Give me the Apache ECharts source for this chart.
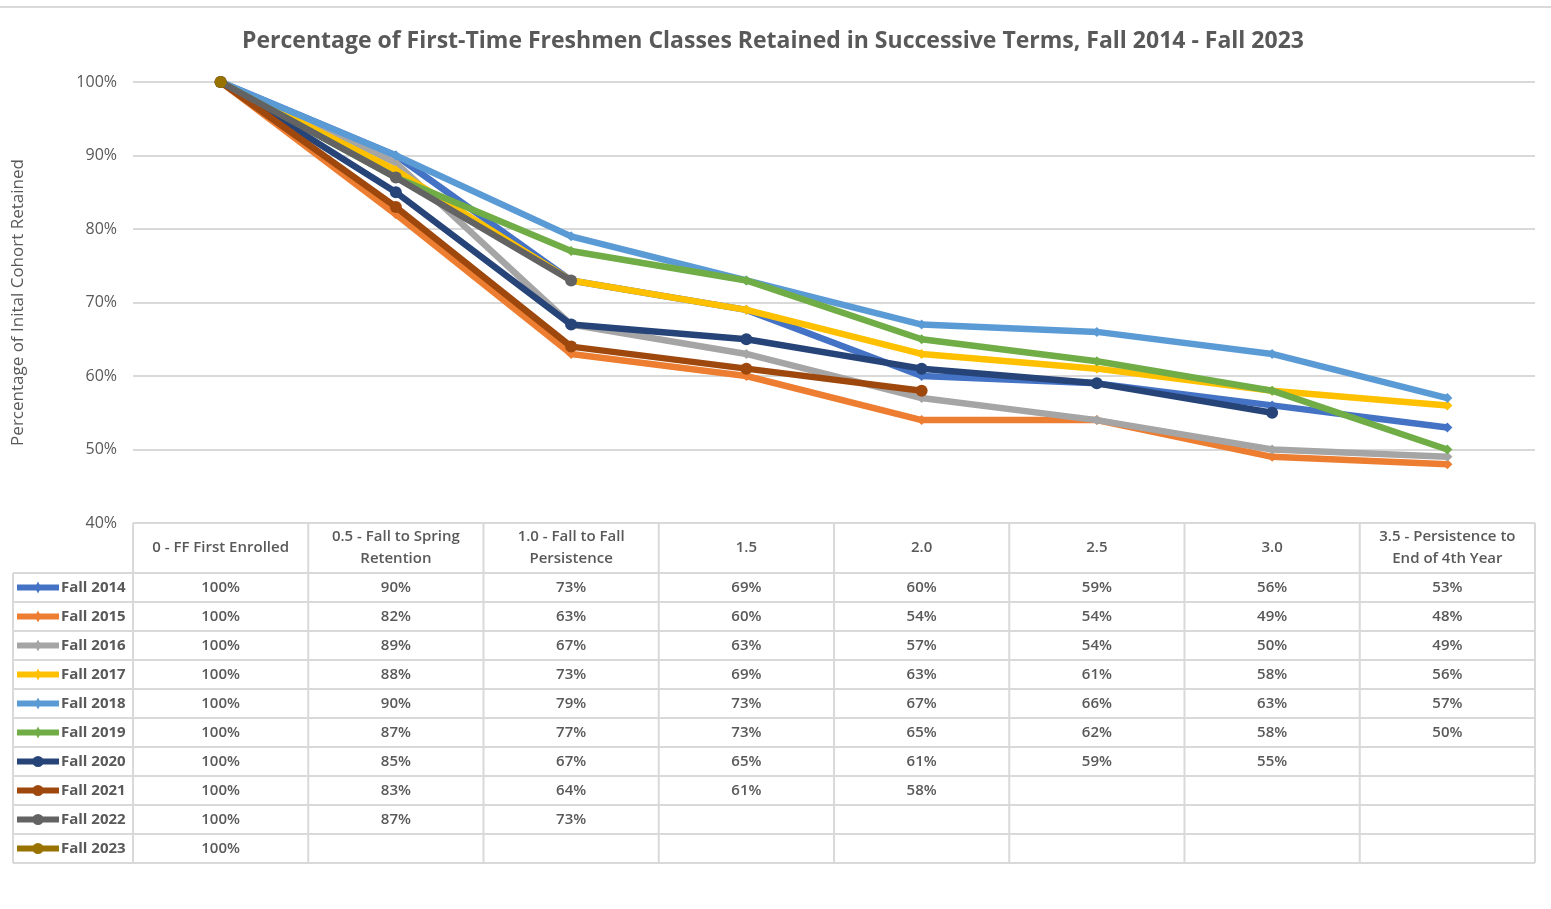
<!DOCTYPE html>
<html>
<head>
<meta charset="utf-8">
<script src="https://cdn.jsdelivr.net/npm/echarts@6/dist/echarts.min.js"></script>
<style>
  html, body { margin: 0; padding: 0; background: #fff; }
  #main { width: 1551px; height: 909px; }
</style>
</head>
<body>
<div id="main"></div>
<script>
// categories (table header)
var categories = ['0 - FF First Enrolled', '0.5 - Fall to Spring\nRetention', '1.0 - Fall to Fall\nPersistence',
  '1.5', '2.0', '2.5', '3.0', '3.5 - Persistence to\nEnd of 4th Year'];
var cohorts = ['Fall 2014', 'Fall 2015', 'Fall 2016', 'Fall 2017', 'Fall 2018',
  'Fall 2019', 'Fall 2020', 'Fall 2021', 'Fall 2022', 'Fall 2023'];
var fall2014 = [100, 90, 73, 69, 60, 59, 56, 53];
var fall2015 = [100, 82, 63, 60, 54, 54, 49, 48];
var fall2016 = [100, 89, 67, 63, 57, 54, 50, 49];
var fall2017 = [100, 88, 73, 69, 63, 61, 58, 56];
var fall2018 = [100, 90, 79, 73, 67, 66, 63, 57];
var fall2019 = [100, 87, 77, 73, 65, 62, 58, 50];
var fall2020 = [100, 85, 67, 65, 61, 59, 55];
var fall2021 = [100, 83, 64, 61, 58];
var fall2022 = [100, 87, 73];
var fall2023 = [100];
var allData = [fall2014, fall2015, fall2016, fall2017, fall2018, fall2019, fall2020, fall2021, fall2022, fall2023];
var colors = ['#4472C4', '#ED7D31', '#A5A5A5', '#FFC000', '#5B9BD5', '#70AD47', '#264478', '#9E480E', '#636363', '#997300'];
var symbols = ['diamond', 'diamond', 'diamond', 'diamond', 'diamond', 'diamond', 'circle', 'circle', 'circle', 'circle'];

var txtColor = '#595959';
var lineColor = '#d9d9d9';
var fontFam = '"Open Sans", "Noto Sans", sans-serif';

var chart = echarts.init(document.getElementById('main'));

var series = cohorts.map(function (name, i) {
  return {
    name: name,
    type: 'line',
    data: allData[i],
    symbol: symbols[i],
    symbolSize: symbols[i] == 'circle' ? 12 : 10,
    showAllSymbol: true,
    lineStyle: { width: 6.5, color: colors[i] },
    itemStyle: { color: colors[i] },
    z: 2 + i
  };
});

var option = {
  animation: false,
  title: {
    text: 'Percentage of First-Time Freshmen Classes Retained in Successive Terms, Fall 2014 - Fall 2023',
    left: 237,
    top: 25,
    textStyle: { fontFamily: fontFam, fontSize: 23, fontWeight: 'bold', color: txtColor }
  },
  grid: { left: 133, right: 16, top: 82, bottom: 386 },
  xAxis: {
    type: 'category',
    data: categories,
    boundaryGap: true,
    axisLine: { show: false },
    axisTick: { show: false },
    axisLabel: { show: false }
  },
  yAxis: {
    type: 'value',
    min: 40,
    max: 100,
    interval: 10,
    name: 'Percentage of Inital Cohort Retained',
    nameLocation: 'middle',
    nameRotate: 90,
    nameGap: 106,
    nameTextStyle: { fontFamily: fontFam, fontSize: 17, color: txtColor },
    axisLine: { show: false },
    axisTick: { show: false },
    axisLabel: { formatter: '{value}%', fontFamily: fontFam, fontSize: 16, color: txtColor, margin: 16 },
    splitLine: { lineStyle: { color: lineColor, width: 2 } }
  },
  series: series
};
chart.setOption(option);

// data table under the plot, columns taken from the category axis
var graphics = [];
var tableTop = 523, headerH = 50, rowH = 29;
var leftEdge = 13;
var centers = categories.map(function (c, i) { return chart.convertToPixel({ xAxisIndex: 0 }, i); });
var colW = centers[1] - centers[0];
var xStart = centers[0] - colW / 2;
var xEnd = centers[centers.length - 1] + colW / 2;
var tableBottom = tableTop + headerH + rowH * cohorts.length;

function hline(x1, x2, y) {
  graphics.push({ type: 'line', shape: { x1: x1, y1: y, x2: x2, y2: y }, style: { stroke: lineColor, lineWidth: 2 }, z: 1 });
}
function vline(x, y1, y2) {
  graphics.push({ type: 'line', shape: { x1: x, y1: y1, x2: x, y2: y2 }, style: { stroke: lineColor, lineWidth: 2 }, z: 1 });
}
// top line of chart frame
hline(0, 1551, 7);
// horizontal rules
hline(xStart, xEnd, tableTop);
for (var r = 0; r <= cohorts.length; r++) {
  hline(leftEdge, xEnd, tableTop + headerH + r * rowH);
}
// vertical rules
vline(leftEdge, tableTop + headerH, tableBottom);
for (var c = 0; c <= categories.length; c++) {
  vline(xStart + c * colW, tableTop, tableBottom);
}
// header texts
categories.forEach(function (cat, i) {
  graphics.push({
    type: 'text', x: centers[i], y: tableTop + headerH / 2,
    style: { text: cat, fontFamily: fontFam, fontSize: 15, fontWeight: 600, fill: txtColor, align: 'center', verticalAlign: 'middle', lineHeight: 22 }
  });
});
// rows
cohorts.forEach(function (name, r) {
  var cy = tableTop + headerH + r * rowH + rowH / 2;
  graphics.push({ type: 'line', shape: { x1: 17, y1: cy, x2: 59, y2: cy }, style: { stroke: colors[r], lineWidth: 6 }, z: 3 });
  if (symbols[r] == 'circle') {
    graphics.push({ type: 'circle', shape: { cx: 38, cy: cy, r: 5.5 }, style: { fill: colors[r] }, z: 4 });
  } else {
    graphics.push({ type: 'polygon', shape: { points: [[38, cy - 6], [41, cy], [38, cy + 6], [35, cy]] }, style: { fill: colors[r] }, z: 4 });
  }
  graphics.push({
    type: 'text', x: 61, y: cy,
    style: { text: name, fontFamily: fontFam, fontSize: 15, fontWeight: 'bold', fill: txtColor, align: 'left', verticalAlign: 'middle' }
  });
  allData[r].forEach(function (v, i) {
    graphics.push({
      type: 'text', x: centers[i], y: cy,
      style: { text: v + '%', fontFamily: fontFam, fontSize: 15, fontWeight: 600, fill: txtColor, align: 'center', verticalAlign: 'middle' }
    });
  });
});
chart.setOption({ graphic: graphics });
</script>
</body>
</html>
